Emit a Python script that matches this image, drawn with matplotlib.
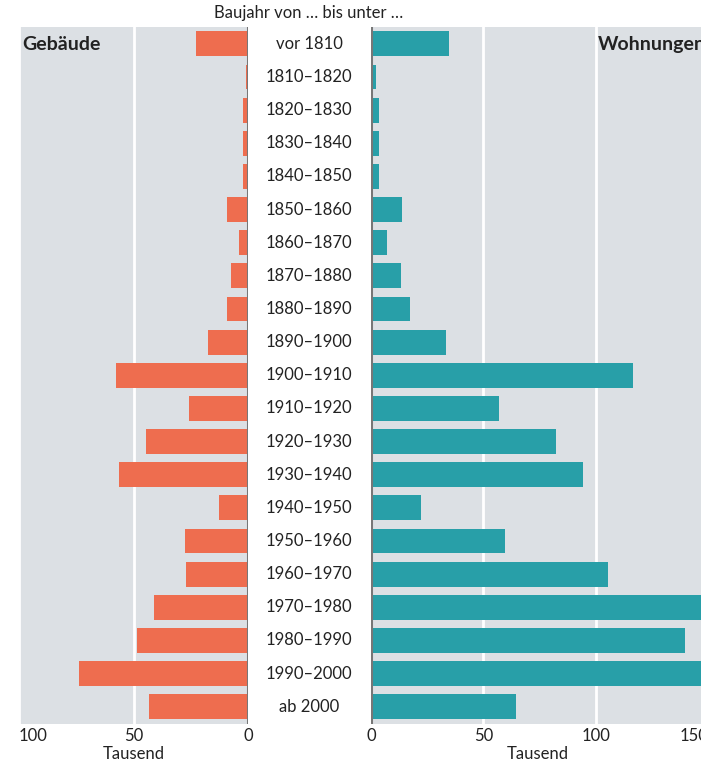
import matplotlib
matplotlib.use('Agg')
import matplotlib.pyplot as plt
import numpy as np

plt.rcParams['font.family'] = ['Lato', 'DejaVu Sans']

# Baujahr-Klassen
perioden = ['vor 1810', '1810–1820', '1820–1830', '1830–1840', '1840–1850',
            '1850–1860', '1860–1870', '1870–1880', '1880–1890', '1890–1900',
            '1900–1910', '1910–1920', '1920–1930', '1930–1940', '1940–1950',
            '1950–1960', '1960–1970', '1970–1980', '1980–1990', '1990–2000',
            'ab 2000']

# Tausend
gebaeude = [22.8, 1.0, 2.0, 2.0, 2.0, 9.0, 4.0, 7.5, 9.3, 17.6,
            57.6, 25.9, 44.6, 56.3, 12.8, 27.6, 27.2, 41.1, 48.5, 73.7, 43.3]
wohnungen = [34.5, 2.2, 3.5, 3.5, 3.5, 13.7, 7.0, 13.3, 17.3, 33.6,
             116.4, 57.0, 82.3, 94.2, 22.1, 59.7, 105.5, 163.0, 139.7, 170.0, 64.4]

left_ticks = [100, 50, 0]
right_ticks = [0, 50, 100, 150]

bg = '#dce0e4'
orange = '#ee6d4f'
teal = '#289fa8'
txt = '#222222'

W, H = 701, 761
fig = plt.figure(figsize=(W / 100, H / 100), dpi=100)

y = np.arange(len(perioden))
ax_l = fig.add_axes([19 / W, 1 - 724 / H, 229 / W, 697 / H])
ax_r = fig.add_axes([371 / W, 1 - 724 / H, 337 / W, 697 / H])

for ax in (ax_l, ax_r):
    ax.set_facecolor(bg)
    for s in ax.spines.values():
        s.set_visible(False)
    ax.set_ylim(len(perioden) - 0.48, -0.51)
    ax.set_yticks([])
    ax.tick_params(axis='x', length=0, labelsize=12, labelcolor=txt, pad=3)
    ax.grid(axis='x', color='white', linewidth=2)
    ax.set_axisbelow(True)

ax_l.barh(y, gebaeude, height=0.75, color=orange, zorder=2)
ax_l.set_xlim(100, 0)
ax_l.set_xticks(left_ticks)
ax_l.axvline(0, color='#777777', linewidth=2.2, zorder=3)
ax_l.set_xlabel('Tausend', fontsize=12, color=txt)
ax_l.xaxis.set_label_coords(0.5, -0.031)
ax_l.get_xticklabels()[0].set_horizontalalignment('left')

ax_r.barh(y, wohnungen, height=0.75, color=teal, zorder=2)
ax_r.set_xlim(0, 150)
ax_r.set_xticks(right_ticks)
ax_r.axvline(0, color='#777777', linewidth=2.2, zorder=3)
ax_r.set_xlabel('Tausend', fontsize=12, color=txt)
ax_r.xaxis.set_label_coords(0.495, -0.031)
ax_r.get_xticklabels()[-1].set_horizontalalignment('right')

ax_l.text(0.013, 0.975, 'Gebäude', transform=ax_l.transAxes, fontsize=14,
          fontweight='bold', color=txt, ha='left', va='center')
ax_r.text(0.995, 0.975, 'Wohnungen', transform=ax_r.transAxes, fontsize=14,
          fontweight='bold', color=txt, ha='right', va='center')

# Beschriftung der Klassen in der Mitte
for i, p in enumerate(perioden):
    ax_l.annotate(p, xy=(0, i), xycoords=('data', 'data'), xytext=(61, 0),
                  textcoords='offset pixels', ha='center', va='center',
                  fontsize=12, color=txt, annotation_clip=False)

fig.text(309 / W, 1 - 13 / H, 'Baujahr von … bis unter …', ha='center',
         va='center', fontsize=12, color=txt)

fig.savefig('out.png', dpi=100)
